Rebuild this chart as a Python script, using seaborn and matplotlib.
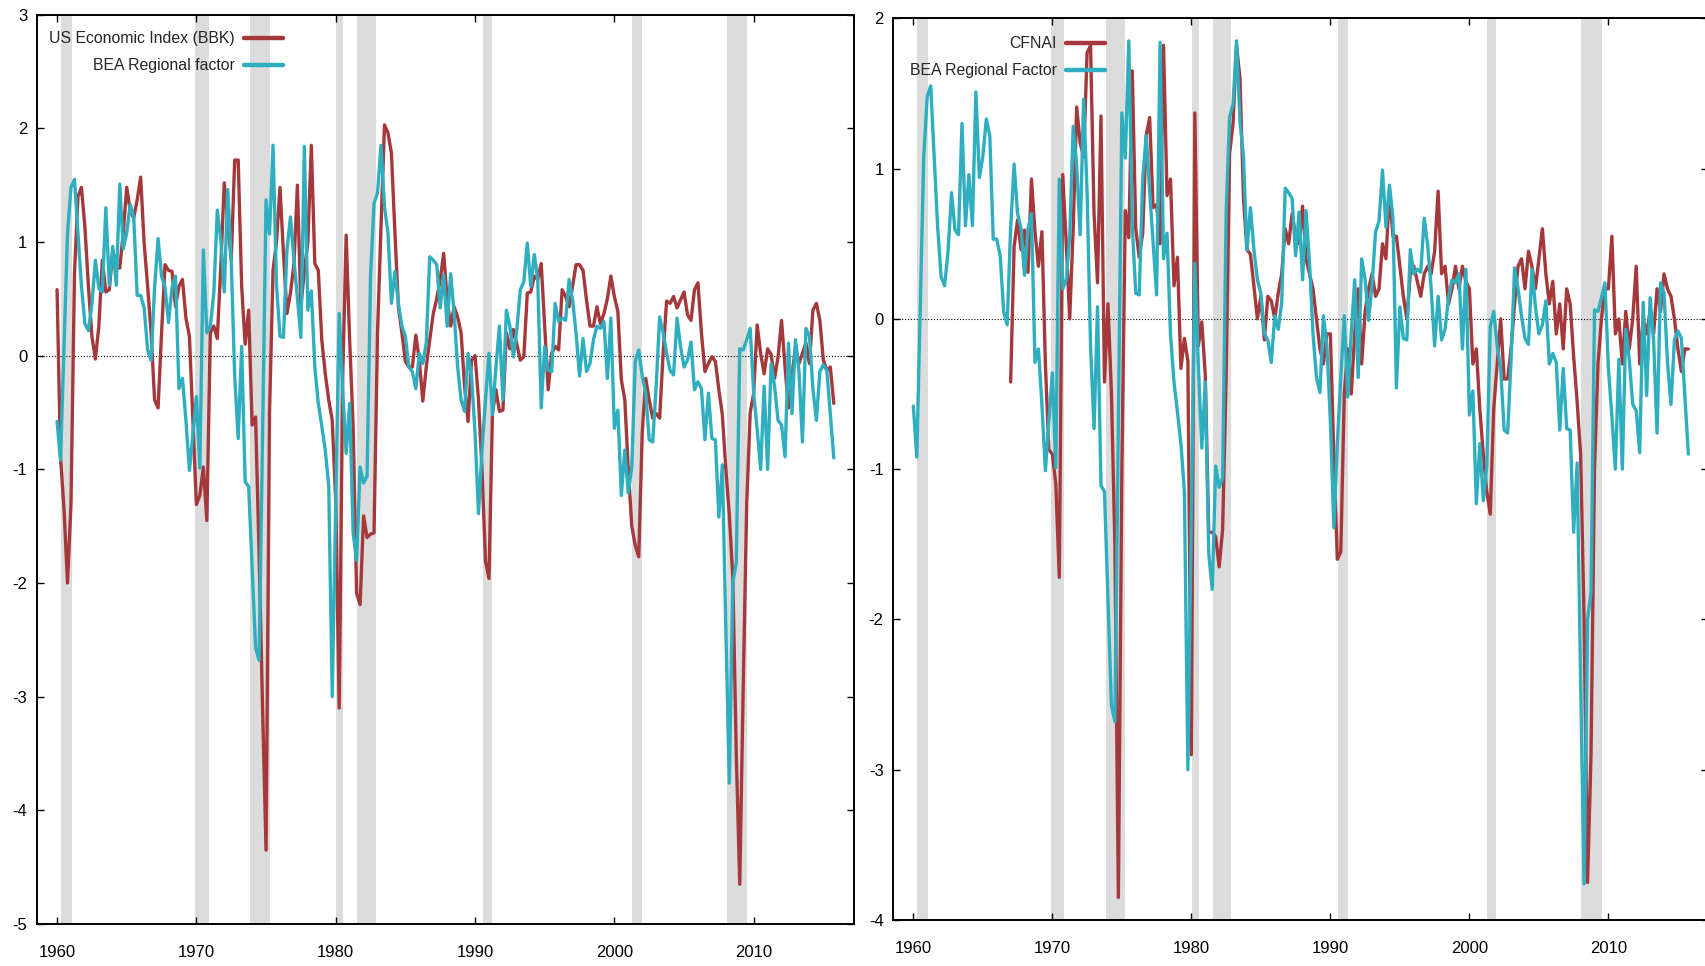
import numpy as np
import pandas as pd
import matplotlib
matplotlib.use("Agg")
import matplotlib.pyplot as plt
from matplotlib import font_manager
import seaborn as sns

# ---------------- data (quarterly, starting 1960Q1) ----------------
bea_regional = [
    -0.58, -0.92, 0.08, 1.08, 1.48, 1.55, 1.08, 0.61, 0.28, 0.22,
    0.45, 0.84, 0.59, 0.56, 1.30, 0.62, 0.96, 0.62, 1.51, 0.94,
    1.08, 1.33, 1.22, 0.53, 0.53, 0.42, 0.05, -0.04, 0.60, 1.03,
    0.70, 0.60, 0.29, 0.60, 0.70, -0.29, -0.20, -0.57, -1.01, -0.68,
    -0.36, -0.99, 0.93, 0.20, 0.26, 0.55, 1.28, 1.02, 0.56, 1.46,
    0.84, -0.18, -0.73, 0.08, -1.11, -1.15, -1.85, -2.57, -2.68, -0.70,
    1.37, 1.07, 1.85, 0.62, 0.17, 0.16, 0.93, 1.22, 0.85, 0.50,
    0.16, 1.84, 0.40, 0.57, -0.10, -0.42, -0.62, -0.83, -1.15, -3.00,
    -1.30, 0.37, -0.30, -0.86, -0.42, -1.56, -1.80, -0.98, -1.12, -1.06,
    0.70, 1.34, 1.43, 1.85, 1.31, 1.08, 0.46, 0.74, 0.46, 0.26,
    0.17, -0.10, -0.14, -0.29, 0.02, -0.07, 0.11, 0.87, 0.84, 0.80,
    0.42, 0.71, 0.26, 0.72, 0.37, -0.10, -0.39, -0.49, 0.02, -0.18,
    -0.68, -1.39, -0.83, -0.39, 0.02, -0.52, -0.10, 0.26, -0.39, 0.40,
    0.26, -0.01, 0.23, 0.58, 0.65, 0.99, 0.61, 0.89, 0.67, -0.46,
    0.08, -0.13, -0.14, 0.46, 0.30, 0.33, 0.31, 0.67, 0.49, 0.20,
    -0.18, 0.15, -0.14, -0.07, 0.14, 0.26, 0.24, 0.30, -0.20, 0.33,
    -0.64, -0.48, -1.23, -0.83, -1.21, -0.98, -0.05, 0.05, -0.18, -0.33,
    -0.74, -0.76, -0.27, 0.34, 0.20, 0.02, -0.13, -0.17, 0.33, 0.08,
    -0.10, -0.04, 0.12, -0.30, -0.23, -0.29, -0.74, -0.33, -0.73, -0.74,
    -1.42, -0.96, -2.40, -3.76, -2.00, -1.82, 0.06, 0.05, 0.14, 0.24,
    -0.33, -0.65, -1.00, -0.27, -1.00, -0.07, -0.27, -0.57, -0.61, -0.89,
    0.11, -0.51, 0.14, -0.14, -0.76, 0.24, 0.17, -0.29, -0.57, -0.14,
    -0.08, -0.13, -0.51, -0.90,
]

bbk_index = [
    0.58, -0.90, -1.35, -2.00, -1.30, 0.72, 1.40, 1.48, 1.13, 0.61,
    0.17, -0.03, 0.26, 0.84, 0.56, 0.58, 0.93, 0.78, 0.77, 1.08,
    1.48, 1.28, 1.21, 1.37, 1.57, 0.99, 0.61, 0.20, -0.39, -0.46,
    0.20, 0.80, 0.75, 0.74, 0.43, 0.61, 0.67, 0.33, 0.17, -0.57,
    -1.31, -1.23, -0.98, -1.45, 0.20, 0.26, 0.15, 0.78, 1.52, 1.19,
    0.84, 1.72, 1.72, 0.61, 0.10, 0.40, -0.61, -0.54, -1.74, -3.10,
    -4.35, -0.50, 0.75, 1.00, 1.48, 0.90, 0.37, 0.55, 0.80, 1.50,
    0.43, 0.75, 1.00, 1.85, 0.81, 0.75, 0.14, -0.16, -0.39, -0.57,
    -1.27, -3.10, -0.20, 1.06, 0.14, -0.62, -2.09, -2.19, -1.41, -1.60,
    -1.57, -1.56, 0.20, 1.13, 2.03, 1.96, 1.78, 1.08, 0.43, 0.20,
    -0.05, -0.10, -0.10, 0.18, -0.04, -0.40, -0.10, 0.14, 0.37, 0.50,
    0.67, 0.90, 0.49, 0.26, 0.43, 0.34, 0.20, -0.27, -0.58, -0.04,
    0.00, -0.39, -1.00, -1.81, -1.96, -0.51, -0.30, -0.49, -0.48, 0.20,
    0.06, 0.23, 0.10, -0.04, -0.01, 0.55, 0.56, 0.70, 0.67, 0.81,
    0.26, -0.30, 0.02, 0.08, 0.05, 0.58, 0.52, 0.43, 0.61, 0.80,
    0.80, 0.75, 0.49, 0.26, 0.26, 0.43, 0.28, 0.37, 0.50, 0.70,
    0.52, 0.39, -0.21, -0.39, -1.00, -1.50, -1.67, -1.77, -0.68, -0.20,
    -0.39, -0.55, -0.51, -0.55, 0.02, 0.48, 0.46, 0.52, 0.42, 0.49,
    0.56, 0.36, 0.31, 0.58, 0.64, 0.20, -0.14, -0.07, -0.01, -0.05,
    -0.30, -0.52, -1.00, -1.40, -1.95, -3.50, -4.65, -2.90, -1.30, -0.50,
    -0.33, 0.27, 0.02, -0.16, 0.06, 0.01, -0.20, -0.01, 0.31, -0.10,
    -0.46, -0.18, 0.08, -0.07, 0.02, 0.11, -0.07, 0.40, 0.46, 0.31,
    -0.04, -0.13, -0.10, -0.42,
]

# CFNAI starts in 1967Q1
cfnai_start = 1967.0
cfnai = [
    -0.42, 0.48, 0.66, 0.46, 0.59, 0.31, 0.93, 0.58, 0.35, 0.58,
    -0.30, -0.87, -0.90, -1.10, -1.72, 0.96, 0.50, 0.00, 0.60, 1.41,
    1.17, 1.08, 1.77, 1.82, 0.70, 0.24, 1.35, -0.42, 0.10, -0.49,
    -1.50, -3.85, -1.00, 0.72, 0.54, 1.65, 0.60, 0.41, 0.57, 1.22,
    1.34, 0.74, 0.76, 0.50, 1.82, 0.82, 0.93, 0.22, 0.41, -0.33,
    -0.13, -0.28, -2.90, 1.37, -0.18, -0.02, -0.37, -1.42, -1.42, -1.45,
    -1.65, -1.40, -0.40, 1.10, 1.30, 1.82, 1.60, 0.80, 0.46, 0.43,
    0.22, 0.00, 0.15, -0.14, 0.15, 0.12, 0.00, 0.17, 0.30, 0.60,
    0.50, 0.70, 0.55, 0.50, 0.75, 0.40, 0.30, 0.20, 0.00, -0.20,
    -0.30, -0.10, -0.10, -0.90, -1.60, -1.55, -0.50, -0.20, -0.50, -0.10,
    0.20, -0.30, 0.05, 0.20, 0.30, 0.15, 0.20, 0.50, 0.40, 0.85,
    0.55, 0.55, 0.35, 0.15, 0.00, 0.30, 0.35, 0.25, 0.15, 0.30,
    0.35, 0.30, 0.45, 0.85, 0.30, 0.35, 0.10, 0.20, 0.35, 0.20,
    0.35, 0.25, 0.20, -0.30, -0.20, -0.60, -0.90, -1.15, -1.30, -0.60,
    -0.30, 0.00, -0.40, -0.40, -0.20, 0.10, 0.35, 0.40, 0.20, 0.45,
    0.35, 0.20, 0.40, 0.60, 0.30, 0.10, 0.25, -0.10, 0.10, -0.20,
    0.20, 0.10, -0.25, -0.55, -0.90, -2.00, -3.75, -2.90, -1.00, -0.30,
    0.00, 0.20, 0.20, 0.55, -0.10, 0.00, -0.30, 0.05, -0.20, 0.00,
    0.35, -0.30, 0.00, -0.10, 0.05, -0.10, 0.20, 0.05, 0.30, 0.20,
    0.15, 0.00, -0.20, -0.35, -0.20, -0.20,
]

# NBER recessions (start, end) in fractional years
recessions = [(1960.25, 1961.08), (1969.92, 1970.87), (1973.87, 1975.25),
              (1980.03, 1980.55), (1981.55, 1982.88), (1990.55, 1991.25),
              (2001.25, 2001.95), (2008.05, 2009.52)]

year_ticks = [1960, 1970, 1980, 1990, 2000, 2010]
left_yticks = [-5, -4, -3, -2, -1, 0, 1, 2, 3]
right_yticks = [-4, -3, -2, -1, 0, 1, 2]

left_labels = ["US Economic Index (BBK)", "BEA Regional factor"]
right_labels = ["CFNAI", "BEA Regional Factor"]

RED = "#a5383a"
TEAL = "#2eaebf"
BAND = "#dcdcdc"

# ---------------- frames ----------------
q_years = 1960.0 + np.arange(len(bea_regional)) / 4.0
df_main = pd.DataFrame({"year": q_years, "bea": bea_regional,
                        "bbk": bbk_index[:len(bea_regional)]})
df_cfnai = pd.DataFrame({"year": cfnai_start + np.arange(len(cfnai)) / 4.0,
                         "cfnai": cfnai})

# ---------------- style ----------------
sns.set_style("ticks")
available = {f.name for f in font_manager.fontManager.ttflist}
if "Liberation Sans Narrow" in available:
    family, tick_fs, legend_fs = "Liberation Sans Narrow", 13.0, 13.4
else:
    family, tick_fs, legend_fs = "Liberation Sans", 12.0, 11.4
plt.rcParams["font.family"] = [family, "DejaVu Sans"]
plt.rcParams["axes.unicode_minus"] = False
plt.rcParams["axes.linewidth"] = 1.4

W, H = 1706, 966
fig = plt.figure(figsize=(W / 100, H / 100), dpi=100)


def px_box(x0, y0, x1, y1):
    return [x0 / W, 1 - y1 / H, (x1 - x0) / W, (y1 - y0) / H]


ax1 = fig.add_axes(px_box(37, 14.6, 854, 924))
ax2 = fig.add_axes(px_box(893.3, 18.3, 1708.5, 920))

xlim = (1958.56, 2017.2)


def decorate(ax, ylim, yticks):
    for a, b in recessions:
        ax.axvspan(a, b, color=BAND, lw=0, zorder=0)
    ax.axhline(0, color="black", lw=0.8, ls=(0, (1, 1.6)), zorder=1)
    ax.set_xlim(*xlim)
    ax.set_ylim(*ylim)
    ax.set_xticks(year_ticks)
    ax.set_yticks(yticks)
    ax.set_xticklabels([str(t) for t in year_ticks])
    ax.set_yticklabels([str(t) for t in yticks])
    ax.tick_params(axis="both", direction="in", length=5, width=1.0,
                   top=True, right=True, labelsize=tick_fs, colors="black")
    ax.tick_params(axis="x", pad=15)
    ax.tick_params(axis="y", pad=7)
    for s in ax.spines.values():
        s.set_visible(True)
        s.set_color("black")
        s.set_linewidth(1.4)


decorate(ax1, (-5, 3), left_yticks)
decorate(ax2, (-4, 2), right_yticks)

lw = 2.4
sns.lineplot(data=df_main, x="year", y="bbk", ax=ax1, color=RED, lw=lw,
             label=left_labels[0], zorder=3)
sns.lineplot(data=df_main, x="year", y="bea", ax=ax1, color=TEAL, lw=lw,
             label=left_labels[1], zorder=4)

sns.lineplot(data=df_cfnai, x="year", y="cfnai", ax=ax2, color=RED, lw=lw,
             label=right_labels[0], zorder=3)
sns.lineplot(data=df_main, x="year", y="bea", ax=ax2, color=TEAL, lw=lw,
             label=right_labels[1], zorder=4)

for ax in (ax1, ax2):
    ax.set_xlabel("")
    ax.set_ylabel("")

fs_px = legend_fs * 100 / 72
leg_kw = dict(frameon=False, fontsize=legend_fs, markerfirst=False,
              borderpad=0, handlelength=39 / fs_px, handletextpad=9 / fs_px,
              labelspacing=0.75, borderaxespad=0, loc="upper right")
l1 = ax1.legend(bbox_to_anchor=(0.301, 0.9816), **leg_kw)
l2 = ax2.legend(bbox_to_anchor=(0.2597, 0.980), **leg_kw)
for lg in (l1, l2):
    for h in lg.legend_handles:
        h.set_linewidth(3.2)

fig.savefig("out.png", dpi=100)
